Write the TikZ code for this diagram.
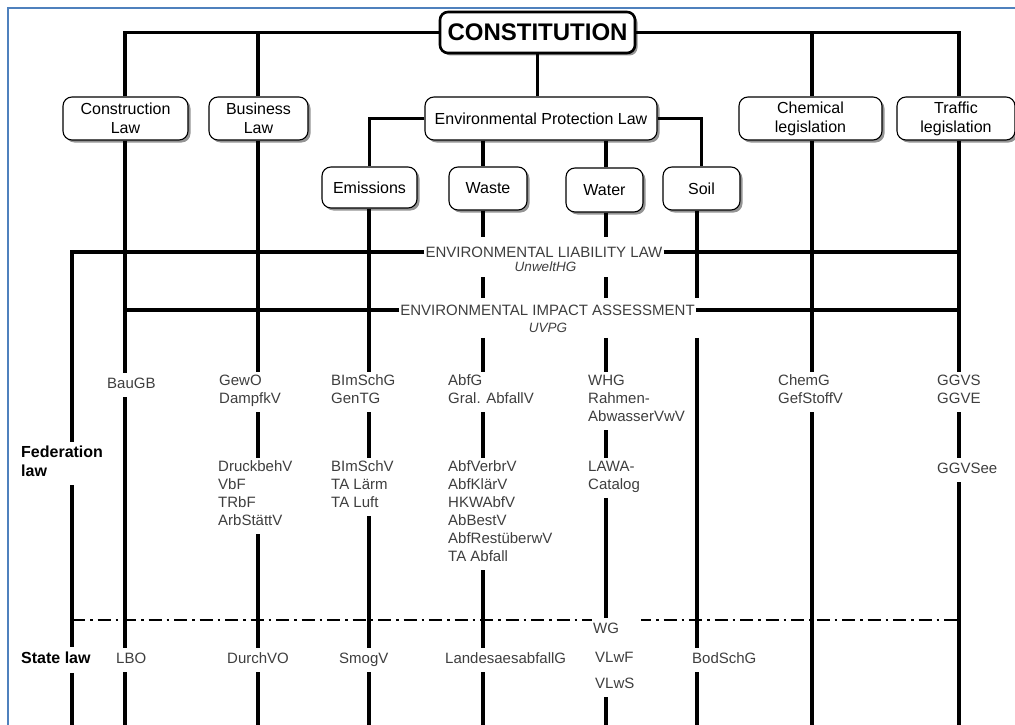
\documentclass[tikz,border=0pt]{standalone}
\usepackage{fontspec}
\setmainfont{Liberation Sans}
\usetikzlibrary{shadows}
\definecolor{framebl}{RGB}{79,129,189}
\definecolor{lawgray}{RGB}{62,62,62}

\begin{document}
\begin{tikzpicture}[x=1pt,y=-1pt,
  conn/.style={line width=3.1pt},
  lawbox/.style={draw, line width=1.1pt, rounded corners=9pt, fill=white, align=center,
     font=\fontsize{16}{19}\selectfont, inner sep=0pt,
     drop shadow={shadow xshift=2.5pt, shadow yshift=-2.5pt, fill=black!70, opacity=.6}},
  act/.style={anchor=north west, align=left, inner xsep=0pt, inner ysep=3pt,
     font=\fontsize{15}{18}\selectfont, text=lawgray,
     execute at begin node=\strut, execute at end node=\strut},
  tier/.style={anchor=north west, align=left, inner xsep=0pt, inner ysep=3pt,
     font=\fontsize{16}{19}\selectfont\bfseries,
     execute at begin node=\strut, execute at end node=\strut},
  band/.style={font=\fontsize{15}{18}\selectfont, text=lawgray, inner xsep=1pt},
  bandsub/.style={font=\fontsize{13.5}{16}\selectfont\itshape, text=lawgray,
     inner xsep=1pt, inner ysep=5pt},
  sep/.style={line width=2pt, dash pattern=on 13pt off 5pt on 2.5pt off 5pt}
]
\useasboundingbox (0,0) rectangle (1015,725);

% page frame
\draw[framebl, line width=2pt] (8,727) -- (8,8) -- (1015,8);

% column positions
\coordinate (xL)  at (72,0);
\coordinate (xCo) at (125,0);
\coordinate (xBu) at (258,0);
\coordinate (xEm) at (369,0);
\coordinate (xWa) at (483,0);
\coordinate (xWt) at (606,0);
\coordinate (xSo) at (697,0);
\coordinate (xCh) at (812,0);
\coordinate (xTr) at (959,0);
\coordinate (floor) at (0,727);

% federal / state separator
\draw[sep] (72,620) -- (592,620);
\draw[sep, dash phase=3pt] (641,620) -- (959,620);

% legal areas
\node[lawbox, line width=2.6pt, rounded corners=8pt, minimum width=195pt, minimum height=41pt,
      font=\fontsize{24}{28}\selectfont\bfseries] (const) at (537.5,32.5) {CONSTITUTION};
\node[lawbox, minimum width=125pt, minimum height=43pt] (constr) at (125.5,118.5) {Construction\\Law};
\node[lawbox, minimum width=99pt, minimum height=43pt] (biz) at (258.5,118.5) {Business\\Law};
\node[lawbox, minimum width=232pt, minimum height=43pt] (env) at (541,118.5) {Environmental Protection Law};
\node[lawbox, minimum width=143pt, minimum height=43pt] (chem) at (810.5,118.5) {Chemical\\legislation};
\node[lawbox, minimum width=118pt, minimum height=43pt] (traffic) at (956,118.5) {Traffic\\legislation};
\node[lawbox, minimum width=95pt, minimum height=41pt] (emis) at (369.5,187.5) {Emissions};
\node[lawbox, minimum width=78pt, minimum height=43pt] (waste) at (488,188.5) {Waste};
\node[lawbox, minimum width=77pt, minimum height=44pt] (water) at (604.5,190) {Water};
\node[lawbox, minimum width=77pt, minimum height=43pt] (soil) at (701.5,188.5) {Soil};

% cross-cutting laws
\node[band, inner ysep=9pt] (liabT) at (544,252) {ENVIRONMENTAL LIABILITY LAW};
\node[bandsub] (liabS) at (545.5,267) {UnweltHG};
\node[band, inner ysep=6pt] (impT) at (547.5,310) {ENVIRONMENTAL IMPACT ASSESSMENT};
\node[bandsub] (impS) at (548,328) {UVPG};

% levels
\node[tier] (fed) at (21,442.4) {Federation\\law};
\node[tier] (state) at (21,647.4) {State law};

% acts and ordinances
\node[act] (bau)    at (107,372.8) {BauGB};
\node[act] (lbo)    at (116,647.8) {LBO};
\node[act] (gewo)   at (219,371.8) {GewO\\DampfkV};
\node[act] (druck)  at (218,457.8) {DruckbehV\\VbF\\TRbF\\ArbStättV};
\node[act] (durch)  at (227,647.8) {DurchVO};
\node[act] (bimg)   at (331,371.8) {BImSchG\\GenTG};
\node[act] (bimv)   at (331,457.8) {BImSchV\\TA Lärm\\TA Luft};
\node[act] (smog)   at (339,647.8) {SmogV};
\node[act] (abfg)   at (448,371.8) {AbfG\\Gral. AbfallV};
\node[act] (abfv)   at (448,457.8) {AbfVerbrV\\AbfKlärV\\HKWAbfV\\AbBestV\\AbfRestüberwV\\TA Abfall};
\node[act] (landes) at (445,647.8) {LandesaesabfallG};
\node[act] (whg)    at (588,371.8) {WHG\\Rahmen-\\AbwasserVwV};
\node[act] (lawa)   at (588,457.8) {LAWA-\\Catalog};
\node[act] (wg)     at (593,617.8) {WG};
\node[act] (vlwf)   at (595,646.8) {VLwF};
\node[act] (vlws)   at (595,672.8) {VLwS};
\node[act] (bod)    at (692,647.8) {BodSchG};
\node[act] (chemg)  at (778,371.8) {ChemG\\GefStoffV};
\node[act] (ggvs)   at (937,371.8) {GGVS\\GGVE};
\node[act] (ggvsee) at (937,457.8) {GGVSee};

% constitution bar
\draw[conn] (xCo |- constr.north) |- (const.west);
\draw[conn] (xBu |- biz.north) -- (xBu |- const.west);
\draw[conn] (const.east) -| (xTr |- traffic.north);
\draw[conn] (xCh |- chem.north) -- (xCh |- const.east);
\draw[conn] (const.south) -- (const.south |- env.north);

% environmental protection branches
\draw[conn] (env.west) -| (emis.north);
\draw[conn] (env.east) -| (soil.north);
\draw[conn] (xWa |- env.south) -- (xWa |- waste.north);
\draw[conn] (xWt |- env.south) -- (xWt |- water.north);

% cross-cutting bands
\draw[conn] (liabT.west) -| (xL |- fed.north);
\draw[conn] (liabT.east) -- (xTr |- liabT.east);
\draw[conn] (xCo |- impT.west) -- (impT.west);
\draw[conn] (impT.east) -- (xTr |- impT.east);

% level axis
\draw[conn] (xL |- fed.south) -- (xL |- state.north);
\draw[conn] (xL |- state.south) -- (xL |- floor);

% construction
\draw[conn] (xCo |- constr.south) -- (xCo |- bau.north);
\draw[conn] (xCo |- bau.south) -- (xCo |- lbo.north);
\draw[conn] (xCo |- lbo.south) -- (xCo |- floor);

% business
\draw[conn] (xBu |- biz.south) -- (xBu |- gewo.north);
\draw[conn] (xBu |- gewo.south) -- (xBu |- druck.north);
\draw[conn] (xBu |- druck.south) -- (xBu |- durch.north);
\draw[conn] (xBu |- durch.south) -- (xBu |- floor);

% emissions
\draw[conn] (xEm |- emis.south) -- (xEm |- bimg.north);
\draw[conn] (xEm |- bimg.south) -- (xEm |- bimv.north);
\draw[conn] (xEm |- bimv.south) -- (xEm |- smog.north);
\draw[conn] (xEm |- smog.south) -- (xEm |- floor);

% waste
\draw[conn] (xWa |- waste.south) -- (xWa |- liabT.north);
\draw[conn] (xWa |- liabS.south) -- (xWa |- impT.north);
\draw[conn] (xWa |- impS.south) -- (xWa |- abfg.north);
\draw[conn] (xWa |- abfg.south) -- (xWa |- abfv.north);
\draw[conn] (xWa |- abfv.south) -- (xWa |- landes.north);
\draw[conn] (xWa |- landes.south) -- (xWa |- floor);

% water
\draw[conn] (xWt |- water.south) -- (xWt |- liabT.north);
\draw[conn] (xWt |- liabS.south) -- (xWt |- impT.north);
\draw[conn] (xWt |- impS.south) -- (xWt |- whg.north);
\draw[conn] (xWt |- whg.south) -- (xWt |- lawa.north);
\draw[conn] (xWt |- lawa.south) -- (xWt |- wg.north);
\draw[conn] (xWt |- vlws.south) -- (xWt |- floor);

% soil
\draw[conn] (xSo |- soil.south) -- (xSo |- impT.north);
\draw[conn] (xSo |- impS.south) -- (xSo |- bod.north);
\draw[conn] (xSo |- bod.south) -- (xSo |- floor);

% chemicals
\draw[conn] (xCh |- chem.south) -- (xCh |- chemg.north);
\draw[conn] (xCh |- chemg.south) -- (xCh |- floor);

% traffic
\draw[conn] (xTr |- traffic.south) -- (xTr |- ggvs.north);
\draw[conn] (xTr |- ggvs.south) -- (xTr |- ggvsee.north);
\draw[conn] (xTr |- ggvsee.south) -- (xTr |- floor);
\end{tikzpicture}
\end{document}
